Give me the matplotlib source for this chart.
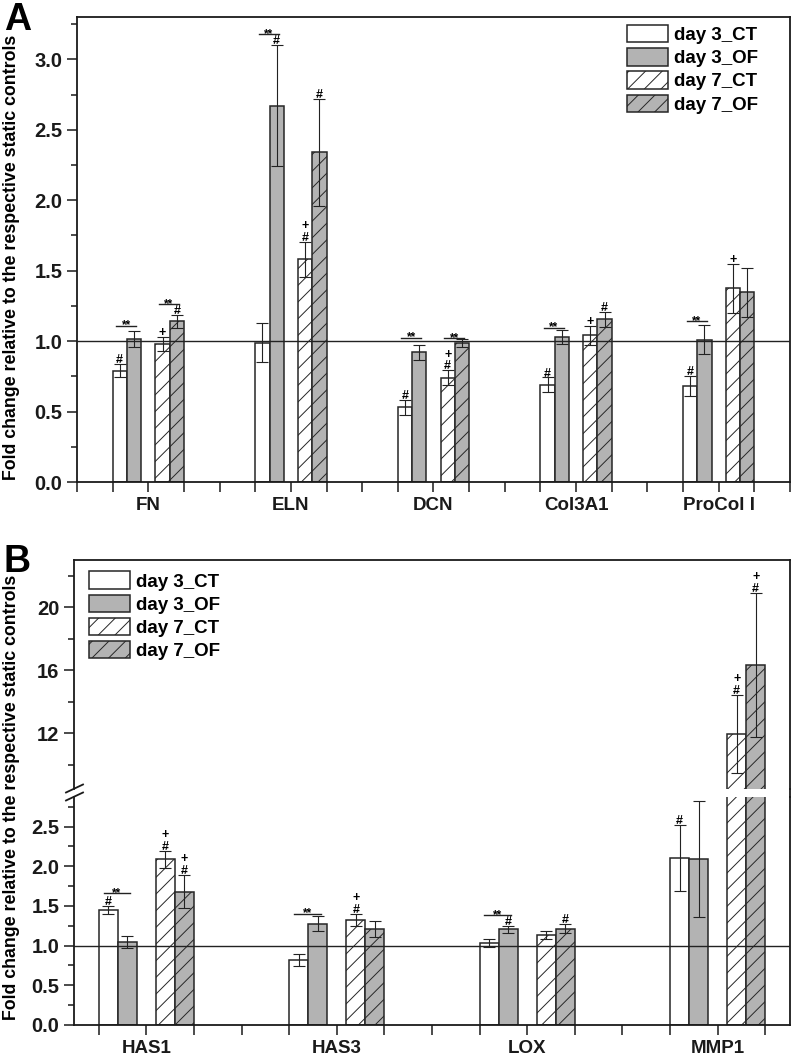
import matplotlib
matplotlib.use("Agg")
import matplotlib.pyplot as plt
import numpy as np
from matplotlib.lines import Line2D
from matplotlib.ticker import FixedLocator, MultipleLocator

plt.rcParams['font.family'] = ['Liberation Sans', 'DejaVu Sans']
plt.rcParams['hatch.linewidth'] = 0.7

# ---------------- data ----------------
SERIES = ["day 3_CT", "day 3_OF", "day 7_CT", "day 7_OF"]

cats_A = ["FN", "ELN", "DCN", "Col3A1", "ProCol I"]
A_d3CT = [0.79, 0.99, 0.53, 0.69, 0.68]
A_d3OF = [1.015, 2.67, 0.92, 1.03, 1.01]
A_d7CT = [0.98, 1.58, 0.74, 1.04, 1.375]
A_d7OF = [1.14, 2.34, 0.985, 1.155, 1.345]
A_d3CT_err = [0.045, 0.135, 0.055, 0.052, 0.07]
A_d3OF_err = [0.06, 0.43, 0.053, 0.052, 0.105]
A_d7CT_err = [0.047, 0.123, 0.052, 0.067, 0.173]
A_d7OF_err = [0.044, 0.38, 0.027, 0.052, 0.173]
# marks per category, per series: '#', '+', '+#' (plus above hash) or ''
A_marks = [['#', '', '+', '#'],
           ['', '#', '+#', '#'],
           ['#', '', '+#', ''],
           ['#', '', '+', '#'],
           ['#', '', '+', '']]
# '**' brackets: (category index, pair 0=day3 / 1=day7, y level)
A_sig = [(0, 0, 1.11), (0, 1, 1.26), (1, 0, 3.18), (2, 0, 1.025),
         (2, 1, 1.02), (3, 0, 1.095), (4, 0, 1.14)]

cats_B = ["HAS1", "HAS3", "LOX", "MMP1"]
B_d3CT = [1.45, 0.82, 1.035, 2.11]
B_d3OF = [1.045, 1.275, 1.207, 2.095]
B_d7CT = [2.09, 1.325, 1.135, 11.96]
B_d7OF = [1.68, 1.205, 1.216, 16.35]
B_d3CT_err = [0.045, 0.08, 0.05, 0.415]
B_d3OF_err = [0.08, 0.095, 0.045, 0.73]
B_d7CT_err = [0.105, 0.078, 0.054, 2.49]
B_d7OF_err = [0.21, 0.10, 0.06, 4.57]
B_marks = [['#', '', '+#', '+#'],
           ['', '', '+#', ''],
           ['', '#', '', '#'],
           ['#', '', '+#', '+#']]
B_sig = [(0, 0, 1.66), (1, 0, 1.405), (2, 0, 1.387)]

# ---------------- style ----------------
OFFSETS = [-0.2, -0.1, 0.1, 0.2]
WIDTH = 0.1
GRAY = '#b3b3b3'
EDGE = '#262626'
STYLES = [dict(facecolor='white', hatch=None),
          dict(facecolor=GRAY, hatch=None),
          dict(facecolor='white', hatch='//'),
          dict(facecolor=GRAY, hatch='//')]
TICKFS = 14.5
W, H = 792, 1056

fig = plt.figure(figsize=(W / 100, H / 100), dpi=100)


def rect(l, t, r, b):
    return [l / W, 1 - b / H, (r - l) / W, (b - t) / H]


axA = fig.add_axes(rect(77, 17, 790, 482))
axBt = fig.add_axes(rect(74, 560, 790, 788.5))
axBb = fig.add_axes(rect(74, 796.5, 790, 1025))


def draw_bars(ax, vals, errs):
    for s in range(4):
        x = np.arange(1, len(vals[s]) + 1) + OFFSETS[s]
        ax.bar(x, vals[s], WIDTH, edgecolor=EDGE, linewidth=1.1,
               label=SERIES[s], zorder=2, **STYLES[s])
        ax.errorbar(x, vals[s], yerr=errs[s], fmt='none', ecolor='#222222',
                    elinewidth=0.8, capsize=4.3, capthick=0.8, zorder=3)


def pick_ax(axes, y):
    for ax in axes:
        lo, hi = ax.get_ylim()
        if lo <= y <= hi:
            return ax
    return axes[-1]


def draw_marks(axes, vals, errs, marks):
    for c, row in enumerate(marks):
        for s, m in enumerate(row):
            if not m:
                continue
            x = c + 1 + OFFSETS[s]
            top = vals[s][c] + errs[s][c]
            ax = pick_ax(axes, top)
            if '#' in m:
                ax.annotate('#', xy=(x, top), xytext=(0, -1.5), textcoords='offset points',
                            ha='center', va='bottom', fontsize=9, fontweight='bold', zorder=5)
                if '+' in m:
                    ax.annotate('+', xy=(x, top), xytext=(0, 7), textcoords='offset points',
                                ha='center', va='bottom', fontsize=9, fontweight='bold', zorder=5)
            elif '+' in m:
                ax.annotate('+', xy=(x, top), xytext=(0, -1.5), textcoords='offset points',
                            ha='center', va='bottom', fontsize=9, fontweight='bold', zorder=5)


def draw_sig(ax, sigs):
    for c, pair, y in sigs:
        xa = c + 1 + OFFSETS[2 * pair] - 0.025
        xb = c + 1 + OFFSETS[2 * pair + 1] + 0.015
        ax.plot([xa, xb], [y, y], color='#222222', lw=1.0, zorder=4)
        ax.annotate('**', xy=((xa + xb) / 2, y), xytext=(0, -2), textcoords='offset points',
                    ha='center', va='baseline', fontsize=8.5, fontweight='bold', zorder=5)


def style_ax(ax):
    for sp in ax.spines.values():
        sp.set_linewidth(1.3)
        sp.set_color('#1a1a1a')
    ax.tick_params(axis='both', which='both', direction='out', width=1.1, colors='#1a1a1a')
    ax.tick_params(axis='y', which='major', length=7)
    ax.tick_params(axis='y', which='minor', length=4)
    ax.tick_params(axis='x', which='both', length=7)
    for lab in ax.get_yticklabels():
        lab.set_fontweight('bold')
        lab.set_fontsize(TICKFS)
    for lab in ax.get_xticklabels():
        lab.set_fontweight('bold')
        lab.set_fontsize(13.5)


# ---------------- panel A ----------------
valsA = [A_d3CT, A_d3OF, A_d7CT, A_d7OF]
errsA = [A_d3CT_err, A_d3OF_err, A_d7CT_err, A_d7OF_err]
axA.set_xlim(0.5, 5.5)
axA.set_ylim(0, 3.3)
draw_bars(axA, valsA, errsA)
axA.axhline(1.0, color='#222222', lw=1.0, zorder=4)
axA.set_xticks(np.arange(1, len(cats_A) + 1))
axA.set_xticklabels(cats_A)
axA.xaxis.set_minor_locator(FixedLocator([v for v in np.arange(0.5, 5.51, 0.25) if v % 1 != 0]))
axA.set_yticks(np.arange(0, 3.01, 0.5))
axA.set_yticklabels([f"{v:.1f}" for v in np.arange(0, 3.01, 0.5)])
axA.yaxis.set_minor_locator(MultipleLocator(0.25))
style_ax(axA)
draw_marks([axA], valsA, errsA, A_marks)
draw_sig(axA, A_sig)
axA.legend(loc='upper left', bbox_to_anchor=(0.771, 0.983), frameon=False,
           prop={'weight': 'bold', 'size': 13.5}, handlelength=2.2, handleheight=1.05,
           labelspacing=0.22, handletextpad=0.3, borderpad=0, borderaxespad=0)

# ---------------- panel B ----------------
valsB = [B_d3CT, B_d3OF, B_d7CT, B_d7OF]
errsB = [B_d3CT_err, B_d3OF_err, B_d7CT_err, B_d7OF_err]
for ax in (axBt, axBb):
    ax.set_xlim(0.62, 4.38)
    draw_bars(ax, valsB, errsB)
axBt.set_ylim(8.5, 23.0)
axBb.set_ylim(0, 2.88)
axBb.axhline(1.0, color='#222222', lw=1.0, zorder=4)
axBb.set_xticks(np.arange(1, len(cats_B) + 1))
axBb.set_xticklabels(cats_B)
axBb.xaxis.set_minor_locator(FixedLocator([v for v in np.arange(0.5, 4.51, 0.25) if v % 1 != 0]))
axBb.set_yticks(np.arange(0, 2.51, 0.5))
axBb.set_yticklabels([f"{v:.1f}" for v in np.arange(0, 2.51, 0.5)])
axBb.yaxis.set_minor_locator(MultipleLocator(0.25))
axBt.set_yticks([12, 16, 20])
axBt.yaxis.set_minor_locator(FixedLocator([10, 14, 18, 22]))
axBt.set_xticks([])
axBt.spines['bottom'].set_visible(False)
axBb.spines['top'].set_visible(False)
style_ax(axBt)
style_ax(axBb)
axBt.tick_params(axis='x', which='both', bottom=False, labelbottom=False)
draw_marks([axBb, axBt], valsB, errsB, B_marks)
draw_sig(axBb, B_sig)
axBt.legend(loc='upper left', bbox_to_anchor=(0.021, 0.95), frameon=False,
            prop={'weight': 'bold', 'size': 13.5}, handlelength=2.2, handleheight=1.05,
            labelspacing=0.22, handletextpad=0.3, borderpad=0, borderaxespad=0)

# right spine continuity across the break
fig.add_artist(Line2D([790 / W, 790 / W], [1 - 788.5 / H, 1 - 796.5 / H],
                      color='#1a1a1a', lw=1.3))
# break marks on left spine
for yb in (788.5, 796.5):
    fig.add_artist(Line2D([66 / W, 83 / W], [1 - (yb + 4) / H, 1 - (yb - 4) / H],
                          color='#1a1a1a', lw=1.3))

# labels
ylab = "Fold change relative to the respective static controls"
fig.text(12 / W, 1 - 257 / H, ylab, rotation=90, ha='center', va='center',
         fontsize=12.8, fontweight='bold')
fig.text(12 / W, 1 - 797 / H, ylab, rotation=90, ha='center', va='center',
         fontsize=12.8, fontweight='bold')
fig.text(4 / W, 1 - 2 / H, "A", ha='left', va='top', fontsize=27, fontweight='bold')
fig.text(4 / W, 1 - 544 / H, "B", ha='left', va='top', fontsize=27, fontweight='bold')

fig.savefig("out.png", dpi=100, facecolor='white')
